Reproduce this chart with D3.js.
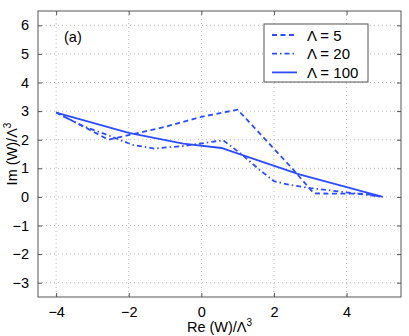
<!DOCTYPE html>
<html>
<head>
<meta charset="utf-8">
<script src="https://cdn.jsdelivr.net/npm/d3@7"></script>
<style>
  body { margin: 0; background: #fff; }
  text { font-family: "Liberation Sans", Arial, sans-serif; }
</style>
</head>
<body>
<svg id="chart" width="409" height="336"></svg>
<script>
const xTicks = [-4, -2, 0, 2, 4];
const yTicks = [-3, -2, -1, 0, 1, 2, 3, 4, 5, 6];

// Re(W)/Λ^3 , Im(W)/Λ^3
const lambda5 = [
  [-4, 2.95], [-3.2, 2.43], [-2.56, 2.0], [-1, 2.45], [0, 2.8], [1, 3.05],
  [2.5, 1.0], [3.1, 0.12], [4.5, 0.11], [5, 0]
];
const lambda20 = [
  [-4, 2.95], [-3.3, 2.5], [-2.5, 2.12], [-1.9, 1.82], [-1.3, 1.69], [-0.5, 1.78],
  [0.6, 1.98], [1.1, 1.5], [1.6, 0.95], [2.0, 0.55], [2.4, 0.43], [3.0, 0.31],
  [4.5, 0.08], [5, 0]
];
const lambda100 = [
  [-4, 2.95], [-2, 2.24], [-0.5, 1.86], [0.55, 1.71], [1.5, 1.3], [2.7, 0.79], [5, 0]
];

const series = [
  { label: 'Λ = 5', data: lambda5, dash: '5,3.5' },
  { label: 'Λ = 20', data: lambda20, dash: '5,3,1.5,3' },
  { label: 'Λ = 100', data: lambda100, dash: null }
];

const blue = '#2d4cff';
const svg = d3.select('#chart');
const mLeft = 38, mRight = 401, mTop = 11, mBottom = 297;

const x = d3.scaleLinear().domain([-4.5, 5.5]).range([mLeft, mRight]);
const y = d3.scaleLinear().domain([-3.5, 6.5]).range([mBottom, mTop]);

// grid
svg.append('g')
  .selectAll('line')
  .data(xTicks)
  .join('line')
  .attr('x1', d => x(d)).attr('x2', d => x(d))
  .attr('y1', mTop).attr('y2', mBottom)
  .attr('stroke', '#aaa').attr('stroke-width', 0.8)
  .attr('stroke-dasharray', '1,3');

svg.append('g')
  .selectAll('line')
  .data(yTicks)
  .join('line')
  .attr('x1', mLeft).attr('x2', mRight)
  .attr('y1', d => y(d)).attr('y2', d => y(d))
  .attr('stroke', '#aaa').attr('stroke-width', 0.8)
  .attr('stroke-dasharray', '1,3');

// axes, ticks pointing inward on all four sides
const fmt = d => d < 0 ? '\u2212' + Math.abs(d) : String(d);

const styleAxis = g => {
  g.select('.domain').remove();
  g.selectAll('.tick line').attr('stroke', '#555');
  g.selectAll('.tick text')
    .attr('fill', '#000')
    .style('font-size', '14.5px')
    .style('font-family', '"Liberation Sans", Arial, sans-serif');
};

svg.append('g')
  .attr('transform', `translate(0,${mBottom})`)
  .call(d3.axisBottom(x).tickValues(xTicks).tickFormat(fmt).tickSizeInner(-4).tickPadding(10))
  .call(styleAxis);

svg.append('g')
  .attr('transform', `translate(0,${mTop})`)
  .call(d3.axisTop(x).tickValues(xTicks).tickFormat('').tickSizeInner(-4))
  .call(styleAxis);

svg.append('g')
  .attr('transform', `translate(${mLeft},0)`)
  .call(d3.axisLeft(y).tickValues(yTicks).tickFormat(fmt).tickSizeInner(-4).tickPadding(9))
  .call(styleAxis);

svg.append('g')
  .attr('transform', `translate(${mRight},0)`)
  .call(d3.axisRight(y).tickValues(yTicks).tickFormat('').tickSizeInner(-4))
  .call(styleAxis);

svg.append('rect')
  .attr('x', mLeft).attr('y', mTop)
  .attr('width', mRight - mLeft).attr('height', mBottom - mTop)
  .attr('fill', 'none').attr('stroke', '#555').attr('stroke-width', 1);

// curves
const line = d3.line().x(d => x(d[0])).y(d => y(d[1]));

svg.append('g')
  .selectAll('path')
  .data(series)
  .join('path')
  .attr('d', d => line(d.data))
  .attr('fill', 'none')
  .attr('stroke', blue)
  .attr('stroke-width', 1.8)
  .attr('stroke-dasharray', d => d.dash);

// panel tag
svg.append('text')
  .attr('x', 64).attr('y', 42)
  .style('font-size', '14.5px')
  .text('(a)');

// legend
const legend = svg.append('g').attr('transform', 'translate(264,24)');
legend.append('rect')
  .attr('width', 104).attr('height', 58)
  .attr('fill', '#fff').attr('stroke', '#555');

const entry = legend.selectAll('g')
  .data(series)
  .join('g')
  .attr('transform', (_, i) => `translate(0,${11 + i * 18.7})`);

entry.append('line')
  .attr('x1', 8).attr('x2', 33)
  .attr('stroke', blue).attr('stroke-width', 1.8)
  .attr('stroke-dasharray', d => d.dash);

entry.append('text')
  .attr('x', 43).attr('y', 5.5)
  .style('font-size', '15px')
  .text(d => d.label);

// axis labels
const xl = svg.append('text')
  .attr('x', (mLeft + mRight) / 2).attr('y', 332)
  .attr('text-anchor', 'middle')
  .style('font-size', '14.5px');
xl.append('tspan').text('Re (W)/Λ');
xl.append('tspan').attr('dy', -6).style('font-size', '10px').text('3');

const yl = svg.append('text')
  .attr('transform', `translate(17,${(mTop + mBottom) / 2}) rotate(-90)`)
  .attr('text-anchor', 'middle')
  .style('font-size', '14.5px');
yl.append('tspan').text('Im (W)/Λ');
yl.append('tspan').attr('dy', -6).style('font-size', '10px').text('3');
</script>
</body>
</html>
